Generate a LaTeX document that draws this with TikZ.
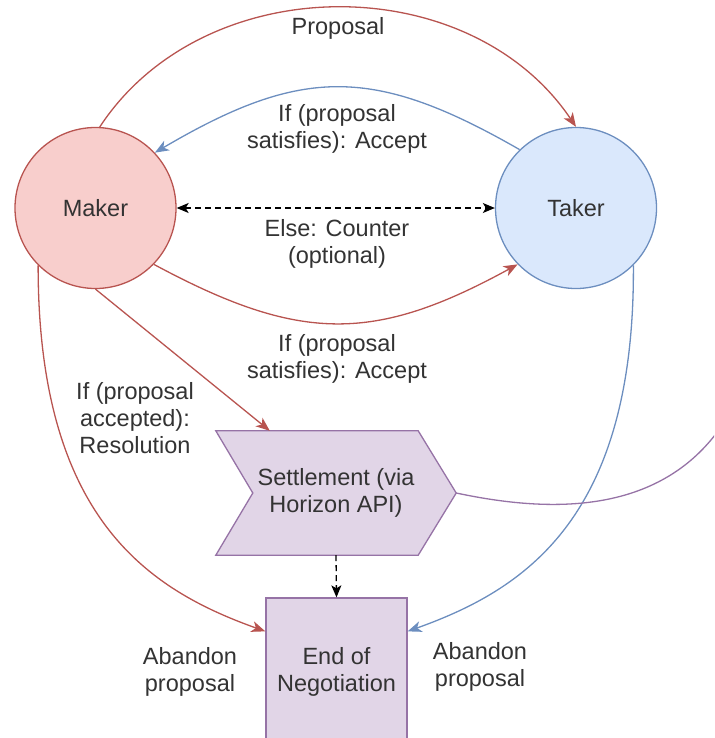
\documentclass[tikz,border=0pt]{standalone}
\usepackage{fontspec}
\setmainfont{Liberation Sans}
\usetikzlibrary{arrows.meta,calc,backgrounds}
\definecolor{redf}{HTML}{F8CECC}
\definecolor{reds}{HTML}{B85450}
\definecolor{bluef}{HTML}{DAE8FC}
\definecolor{blues}{HTML}{6C8EBF}
\definecolor{purf}{HTML}{E1D5E7}
\definecolor{purs}{HTML}{9673A6}
\definecolor{txt}{HTML}{333333}
\begin{document}
\begin{tikzpicture}[x=1pt,y=-1pt,
  every node/.style={font=\fontsize{23.5}{27}\selectfont, text=txt, align=center, inner sep=0pt},
  shapeline/.style={line width=1.3pt},
  conn/.style={line width=1.3pt},
  tipc/.style={-{Stealth[length=14pt,width=11pt,inset=4pt]}},
  redc/.style={conn, draw=reds, tipc},
  bluec/.style={conn, draw=blues, tipc},
  blackd/.style={conn, draw=black, dashed, dash pattern=on 6pt off 4pt},
  circ/.style={circle, shapeline, minimum size=161pt},
  purbox/.style={shapeline, fill=purf, draw=purs}
]
\useasboundingbox (0,0) rectangle (714,738);
\clip (0,0) rectangle (714,738);

\node[circ, fill=redf, draw=reds] (maker) at (95.5,208) {Maker};
\node[circ, fill=bluef, draw=blues] (taker) at (576,208) {Taker};
\node[minimum width=240pt, minimum height=124pt] (set) at (336,493) {Settlement (via\\Horizon API)};
\begin{scope}[on background layer]
\draw[purbox] (set.north west) -- ($(set.north east)+(-38,0)$) -- (set.east)
  -- ($(set.south east)+(-38,0)$) -- (set.south west) -- ($(set.west)+(37,0)$) -- cycle;
\end{scope}
\node[purbox, rectangle, minimum width=141pt, minimum height=162pt] (eon) at (336.5,679) {};
\node (eontxt) at (336.5,671.5) {End of\\Negotiation};

\node (lprop) at (338,28) {Proposal};
\node (lacc1) at (337,128.5) {If (proposal\\satisfies): Accept};
\node (lcnt) at (337,243.5) {Else: Counter\\(optional)};
\node (lacc2) at (337,358.5) {If (proposal\\satisfies): Accept};
\node (lres) at (135,418) {If (proposal\\accepted):\\Resolution};
\node (lab1) at (190,671.5) {Abandon\\proposal};
\node (lab2) at (480,666.5) {Abandon\\proposal};

\coordinate (offr) at (760,330);

% connectors
\draw[redc] (maker.87) .. controls (204,-32) and (469,-32) .. (taker.north);
\draw[bluec] (taker.134) .. controls (374,66) and (302,66) .. (maker.43);
\draw[blackd, {Stealth[length=12pt,width=10pt,inset=3pt]}-{Stealth[length=12pt,width=10pt,inset=3pt]}] (maker.east) -- (taker.west);
\draw[redc] (maker.-44) .. controls (300,343) and (374,343) .. (taker.-136);
\draw[redc] (maker.south) -- ($(set.north west)+(54,0)$);
\draw[redc] (maker.-135) .. controls (38,520) and (150,590) .. ($(eon.north west)+(0,34)$);
\draw[bluec] (taker.-45) .. controls (635,520) and (523,590) .. ($(eon.north east)+(0,34)$);
\draw[conn, draw=purs] (set.east) .. controls (560,515) and (720,525) .. (offr);
\draw[blackd, -{Stealth[length=12pt,width=10pt,inset=3pt]}] (set.south) -- (eon.north);
\end{tikzpicture}
\end{document}
